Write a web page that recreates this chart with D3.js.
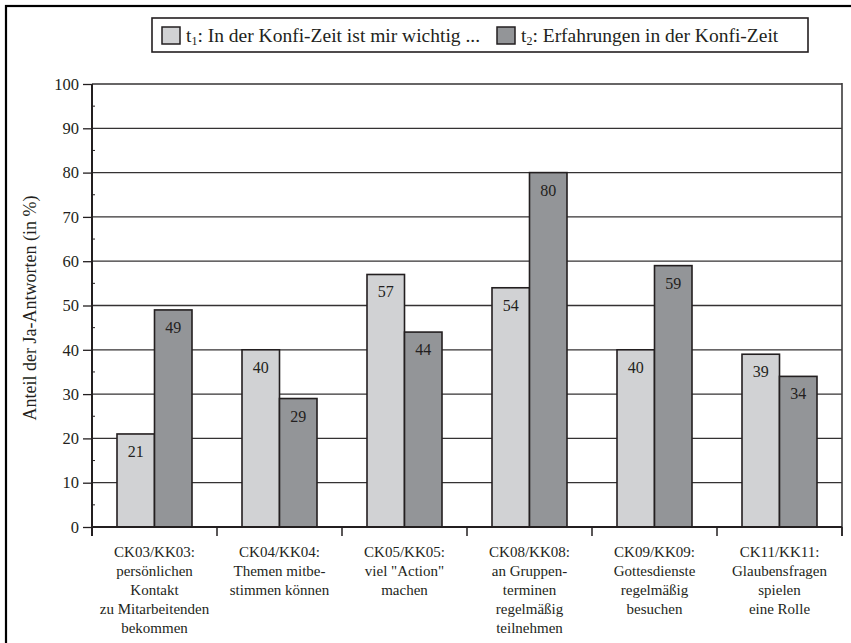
<!DOCTYPE html>
<html><head><meta charset="utf-8">
<script src="https://cdn.jsdelivr.net/npm/d3@7"></script>
<style>body{margin:0;background:#fff}svg{display:block}text{font-family:"Liberation Serif","DejaVu Serif",serif;fill:#231f20}</style>
</head><body>
<script>
const categories = ["CK03/KK03","CK04/KK04","CK05/KK05","CK08/KK08","CK09/KK09","CK11/KK11"];
const categoryLines = [
  ["CK03/KK03:","persönlichen","Kontakt","zu Mitarbeitenden","bekommen"],
  ["CK04/KK04:","Themen mitbe-","stimmen können"],
  ["CK05/KK05:","viel \"Action\"","machen"],
  ["CK08/KK08:","an Gruppen-","terminen","regelmäßig","teilnehmen"],
  ["CK09/KK09:","Gottesdienste","regelmäßig","besuchen"],
  ["CK11/KK11:","Glaubensfragen","spielen","eine Rolle"]
];
const t1Values = [21,40,57,54,40,39];
const t2Values = [49,29,44,80,59,34];
const yTicks = [0,10,20,30,40,50,60,70,80,90,100];
const seriesNames = ["t1","t2"];
const legendLabels = [": In der Konfi-Zeit ist mir wichtig ...", ": Erfahrungen in der Konfi-Zeit"];
const colors = ["#d1d2d4","#939598"];

const W=851,H=643;
const svg=d3.select("body").append("svg").attr("width",W).attr("height",H);
// outer frame
svg.append("rect").attr("x",6).attr("y",6).attr("width",W+10).attr("height",H+10)
  .attr("fill","none").attr("stroke","#000").attr("stroke-width",2.2);

const L=92,R=842,T=84,B=527;
const x=d3.scaleBand().domain(categories).range([L,R]).paddingInner(0).paddingOuter(0);
const x1=d3.scaleBand().domain(seriesNames).range([25,x.bandwidth()-25]);
const y=d3.scaleLinear().domain([0,100]).range([B,T]);

// gridlines
svg.append("g").selectAll("line").data(yTicks.filter(d=>d>0)).join("line")
  .attr("x1",L).attr("x2",R).attr("y1",d=>y(d)).attr("y2",d=>y(d))
  .attr("stroke","#343233").attr("stroke-width",1.3);
// right border
svg.append("line").attr("x1",R).attr("x2",R).attr("y1",T-1).attr("y2",B+9)
  .attr("stroke","#3c3a3b").attr("stroke-width",1.6);

// bars
const data = categories.map((c,i)=>({c, vals:[t1Values[i],t2Values[i]]}));
const g=svg.append("g").selectAll("g").data(data).join("g").attr("transform",d=>`translate(${x(d.c)},0)`);
g.selectAll("rect").data(d=>d.vals.map((v,j)=>({v,s:seriesNames[j],j}))).join("rect")
  .attr("x",d=>x1(d.s)).attr("width",x1.bandwidth()).attr("y",d=>y(d.v)).attr("height",d=>B-y(d.v))
  .attr("fill",d=>colors[d.j]).attr("stroke","#231f20").attr("stroke-width",1.6);
g.selectAll("text.val").data(d=>d.vals.map((v,j)=>({v,s:seriesNames[j],j}))).join("text")
  .attr("class","val").attr("x",d=>x1(d.s)+x1.bandwidth()/2).attr("y",d=>y(d.v)+23)
  .attr("text-anchor","middle").attr("font-size",16).text(d=>d.v);

// y axis
const yAxis=d3.axisLeft(y).tickValues(yTicks).tickSize(9).tickPadding(4);
const ya=svg.append("g").attr("transform",`translate(${L},0)`).call(yAxis);
ya.select(".domain").remove();
ya.selectAll(".tick line").attr("stroke","#231f20").attr("stroke-width",1.3);
ya.selectAll(".tick text").attr("font-size",16.5).attr("fill","#231f20");
svg.append("line").attr("x1",L).attr("x2",L).attr("y1",T).attr("y2",B+9).attr("stroke","#231f20").attr("stroke-width",2);
// minor ticks
svg.append("g").selectAll("line").data(d3.range(5,100,10)).join("line")
  .attr("x1",L).attr("x2",L+3).attr("y1",d=>y(d)).attr("y2",d=>y(d)).attr("stroke","#231f20").attr("stroke-width",1);

// x axis
svg.append("line").attr("x1",L).attr("x2",R).attr("y1",B).attr("y2",B).attr("stroke","#231f20").attr("stroke-width",2);
svg.append("g").selectAll("line").data(categories.map(c=>x(c)).concat([R])).join("line")
  .attr("x1",d=>d).attr("x2",d=>d).attr("y1",B).attr("y2",B+9).attr("stroke","#231f20").attr("stroke-width",1.5);
const xl=svg.append("g").selectAll("text").data(categories).join("text")
  .attr("x",c=>x(c)+x.bandwidth()/2).attr("y",557).attr("text-anchor","middle").attr("font-size",15);
xl.selectAll("tspan").data((c,i)=>categoryLines[i]).join("tspan")
  .attr("x",function(){return this.parentNode.getAttribute("x");}).attr("dy",(d,i)=>i?19:0).text(d=>d);

// y label
svg.append("text").attr("transform","translate(36,308) rotate(-90)").attr("text-anchor","middle")
  .attr("font-size",18).text("Anteil der Ja-Antworten (in %)");

// legend
svg.append("rect").attr("x",152).attr("y",18).attr("width",656).attr("height",34)
  .attr("fill","#fff").attr("stroke","#231f20").attr("stroke-width",1.6);
const legX=[162,497];
seriesNames.forEach((s,i)=>{
  svg.append("rect").attr("x",legX[i]).attr("y",27).attr("width",18).attr("height",17)
    .attr("fill",colors[i]).attr("stroke","#231f20").attr("stroke-width",1.5);
  const t=svg.append("text").attr("x",legX[i]+24).attr("y",42).attr("font-size",19.5);
  t.append("tspan").text("t");
  t.append("tspan").attr("font-size",12).attr("dy",3).text(s.slice(1));
  t.append("tspan").attr("dy",-3).text(legendLabels[i]);
});
</script>
</body></html>
